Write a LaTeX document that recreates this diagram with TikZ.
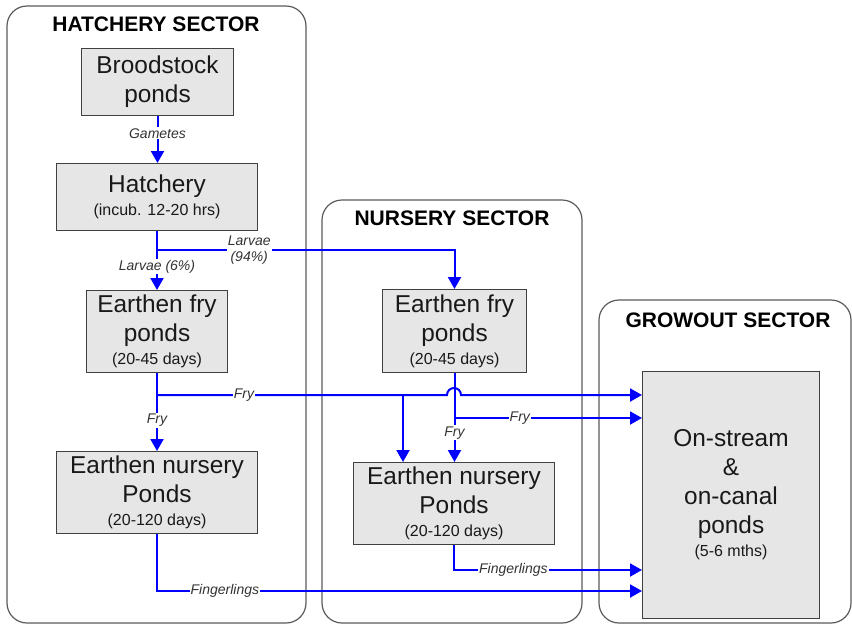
\documentclass[tikz,border=0pt]{standalone}
\usepackage{fontspec}
\setmainfont{Liberation Sans}
\usetikzlibrary{arrows.meta}

\definecolor{pondfill}{HTML}{E6E6E6}
\definecolor{pondline}{HTML}{404040}
\definecolor{sectorline}{HTML}{5A5A5A}
\definecolor{flowblue}{HTML}{0000FF}
\newcommand{\dur}[1]{{\fontsize{16}{19}\selectfont #1}}

\begin{document}
\begin{tikzpicture}[x=1pt, y=1pt,
    pond/.style={rectangle, draw=pondline, fill=pondfill, line width=1pt, inner sep=0pt, align=center, anchor=north west, text=black!90, font=\fontsize{24.4}{29}\selectfont},
    sector/.style={draw=sectorline, line width=1.2pt, rounded corners=20pt},
    title/.style={font=\fontsize{21}{24}\selectfont\bfseries},
    flow/.style={draw=flowblue, line width=2pt, -{Triangle[length=12pt, width=13pt]}},
    lbl/.style={fill=white, inner sep=1pt, text=black!80, font=\fontsize{14}{16}\selectfont\itshape}]
    \useasboundingbox (0,0) rectangle (852,-625);

    % Sectors
    \draw[sector] (7,-6) rectangle (306,-623);
    \draw[sector] (322,-200) rectangle (582,-623);
    \draw[sector] (599,-300) rectangle (851,-623);
    \node[title] (thatch) at (156,-24) {HATCHERY SECTOR};
    \node[title] (tnurs) at (452,-218) {NURSERY SECTOR};
    \node[title] (tgrow) at (728,-320) {GROWOUT SECTOR};

    % Ponds
    \node[pond, minimum width=152pt, minimum height=67pt] (brood) at (81,-48) {Broodstock\\ponds};
    \node[pond, minimum width=201pt, minimum height=67pt] (hatch) at (56,-163) {Hatchery\\[-6pt]\dur{(incub. 12-20 hrs)}};
    \node[pond, minimum width=141pt, minimum height=82pt] (hfry) at (86,-290) {Earthen fry\\ponds\\[-6pt]\dur{(20-45 days)}};
    \node[pond, minimum width=201pt, minimum height=82pt] (hnurs) at (56,-451) {Earthen nursery\\Ponds\\[-6pt]\dur{(20-120 days)}};
    \node[pond, minimum width=144pt, minimum height=83pt] (nfry) at (382,-289) {Earthen fry\\ponds\\[-6pt]\dur{(20-45 days)}};
    \node[pond, minimum width=201pt, minimum height=82pt] (nnurs) at (353,-462) {Earthen nursery\\Ponds\\[-6pt]\dur{(20-120 days)}};
    \node[pond, minimum width=177pt, minimum height=247pt] (grow) at (642,-371) {On-stream\\\&\\on-canal\\ponds\\[-6pt]\dur{(5-6 mths)}};

    % Larvae
    \draw[flow] (brood.south) -- node[lbl, pos=0.37] {Gametes} (brood.south |- hatch.north);
    \draw[flow] (hatch.south) -- node[lbl, pos=0.6] {Larvae (6\%)} (hatch.south |- hfry.north);
    \coordinate (larv) at (157,-250);
    \draw[flow] (larv) -| node[lbl, pos=0.155, align=center] {Larvae\\(94\%)} (nfry.north);

    % Fry
    \draw[flow] (hfry.south) -- node[lbl, pos=0.61] {Fry} (hfry.south |- hnurs.north);
    \coordinate (fryj) at (157,-395);
    \draw[flow] (fryj) -- node[lbl, pos=0.3] {Fry} (447,-395) arc[start angle=180, end angle=0, radius=7pt] -- (grow.west |- fryj);
    \coordinate (dropj) at (403,-395);
    \draw[flow] (dropj) -- (dropj |- nnurs.north);
    \draw[flow] (nfry.south) -- node[lbl, pos=0.67] {Fry} (nfry.south |- nnurs.north);
    \coordinate (fryk) at (454,-418);
    \draw[flow] (fryk) -- node[lbl, pos=0.35] {Fry} (grow.west |- fryk);

    % Fingerlings
    \draw[flow] (nnurs.south) |- node[lbl, pos=0.658] {Fingerlings} (grow.west |- 0,-570);
    \draw[flow] (hnurs.south) |- node[lbl, pos=0.57] {Fingerlings} (grow.west |- 0,-591);
\end{tikzpicture}
\end{document}
